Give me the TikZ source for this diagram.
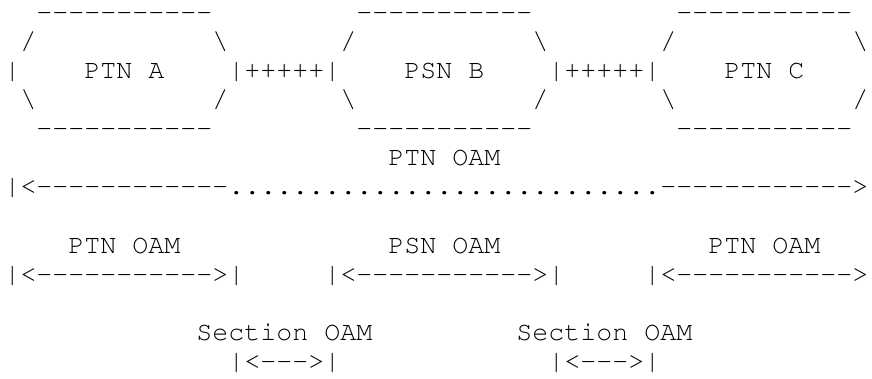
\documentclass[tikz,border=0pt]{standalone}
\usepackage[T1]{fontenc}
\usepackage{courier}
\newcommand\dd{-{}}
\newcommand\bs{\textbackslash}
\newcommand\cell[4]{\node[txt] (#1) at ({4.3+16*#2},{20.5+29.08*#3}) {#4};}
\tikzset{txt/.style={inner sep=0pt, outer sep=0pt, anchor=base west,
  font=\fontsize{26.67}{29}\selectfont\ttfamily}}
\begin{document}
\begin{tikzpicture}[x=1pt,y=-1pt]
\fill[white] (0,0) rectangle (872,378);
\useasboundingbox (0,0) rectangle (872,378);
% row 0
\cell{topA}{2}{0}{\dd\dd\dd\dd\dd\dd\dd\dd\dd\dd\dd}
\cell{topB}{22}{0}{\dd\dd\dd\dd\dd\dd\dd\dd\dd\dd\dd}
\cell{topC}{42}{0}{\dd\dd\dd\dd\dd\dd\dd\dd\dd\dd\dd}
% row 1
\cell{ulA}{1}{1}{/}
\cell{urA}{13}{1}{\bs}
\cell{ulB}{21}{1}{/}
\cell{urB}{33}{1}{\bs}
\cell{ulC}{41}{1}{/}
\cell{urC}{53}{1}{\bs}
% row 2
\cell{barA}{0}{2}{|}
\cell{ptnA}{5}{2}{PTN A}
\cell{linkAB}{14}{2}{|+++++|}
\cell{psnB}{25}{2}{PSN B}
\cell{linkBC}{34}{2}{|+++++|}
\cell{ptnC}{45}{2}{PTN C}
% row 3
\cell{llA}{1}{3}{\bs}
\cell{lrA}{13}{3}{/}
\cell{llB}{21}{3}{\bs}
\cell{lrB}{33}{3}{/}
\cell{llC}{41}{3}{\bs}
\cell{lrC}{53}{3}{/}
% row 4
\cell{botA}{2}{4}{\dd\dd\dd\dd\dd\dd\dd\dd\dd\dd\dd}
\cell{botB}{22}{4}{\dd\dd\dd\dd\dd\dd\dd\dd\dd\dd\dd}
\cell{botC}{42}{4}{\dd\dd\dd\dd\dd\dd\dd\dd\dd\dd\dd}
% row 5-6
\cell{oamAll}{24}{5}{PTN OAM}
\cell{spanAll}{0}{6}{|<\dd\dd\dd\dd\dd\dd\dd\dd\dd\dd\dd\dd...........................\dd\dd\dd\dd\dd\dd\dd\dd\dd\dd\dd\dd>}
% row 8-9
\cell{oamA}{4}{8}{PTN OAM}
\cell{oamB}{24}{8}{PSN OAM}
\cell{oamC}{44}{8}{PTN OAM}
\cell{spanA}{0}{9}{|<\dd\dd\dd\dd\dd\dd\dd\dd\dd\dd\dd>|}
\cell{spanB}{20}{9}{|<\dd\dd\dd\dd\dd\dd\dd\dd\dd\dd\dd>|}
\cell{spanC}{40}{9}{|<\dd\dd\dd\dd\dd\dd\dd\dd\dd\dd\dd>}
% row 11-12
\cell{secAB}{12}{11}{Section OAM}
\cell{secBC}{32}{11}{Section OAM}
\cell{secSpanAB}{14}{12}{|<\dd\dd\dd>|}
\cell{secSpanBC}{34}{12}{|<\dd\dd\dd>|}
\end{tikzpicture}
\end{document}
